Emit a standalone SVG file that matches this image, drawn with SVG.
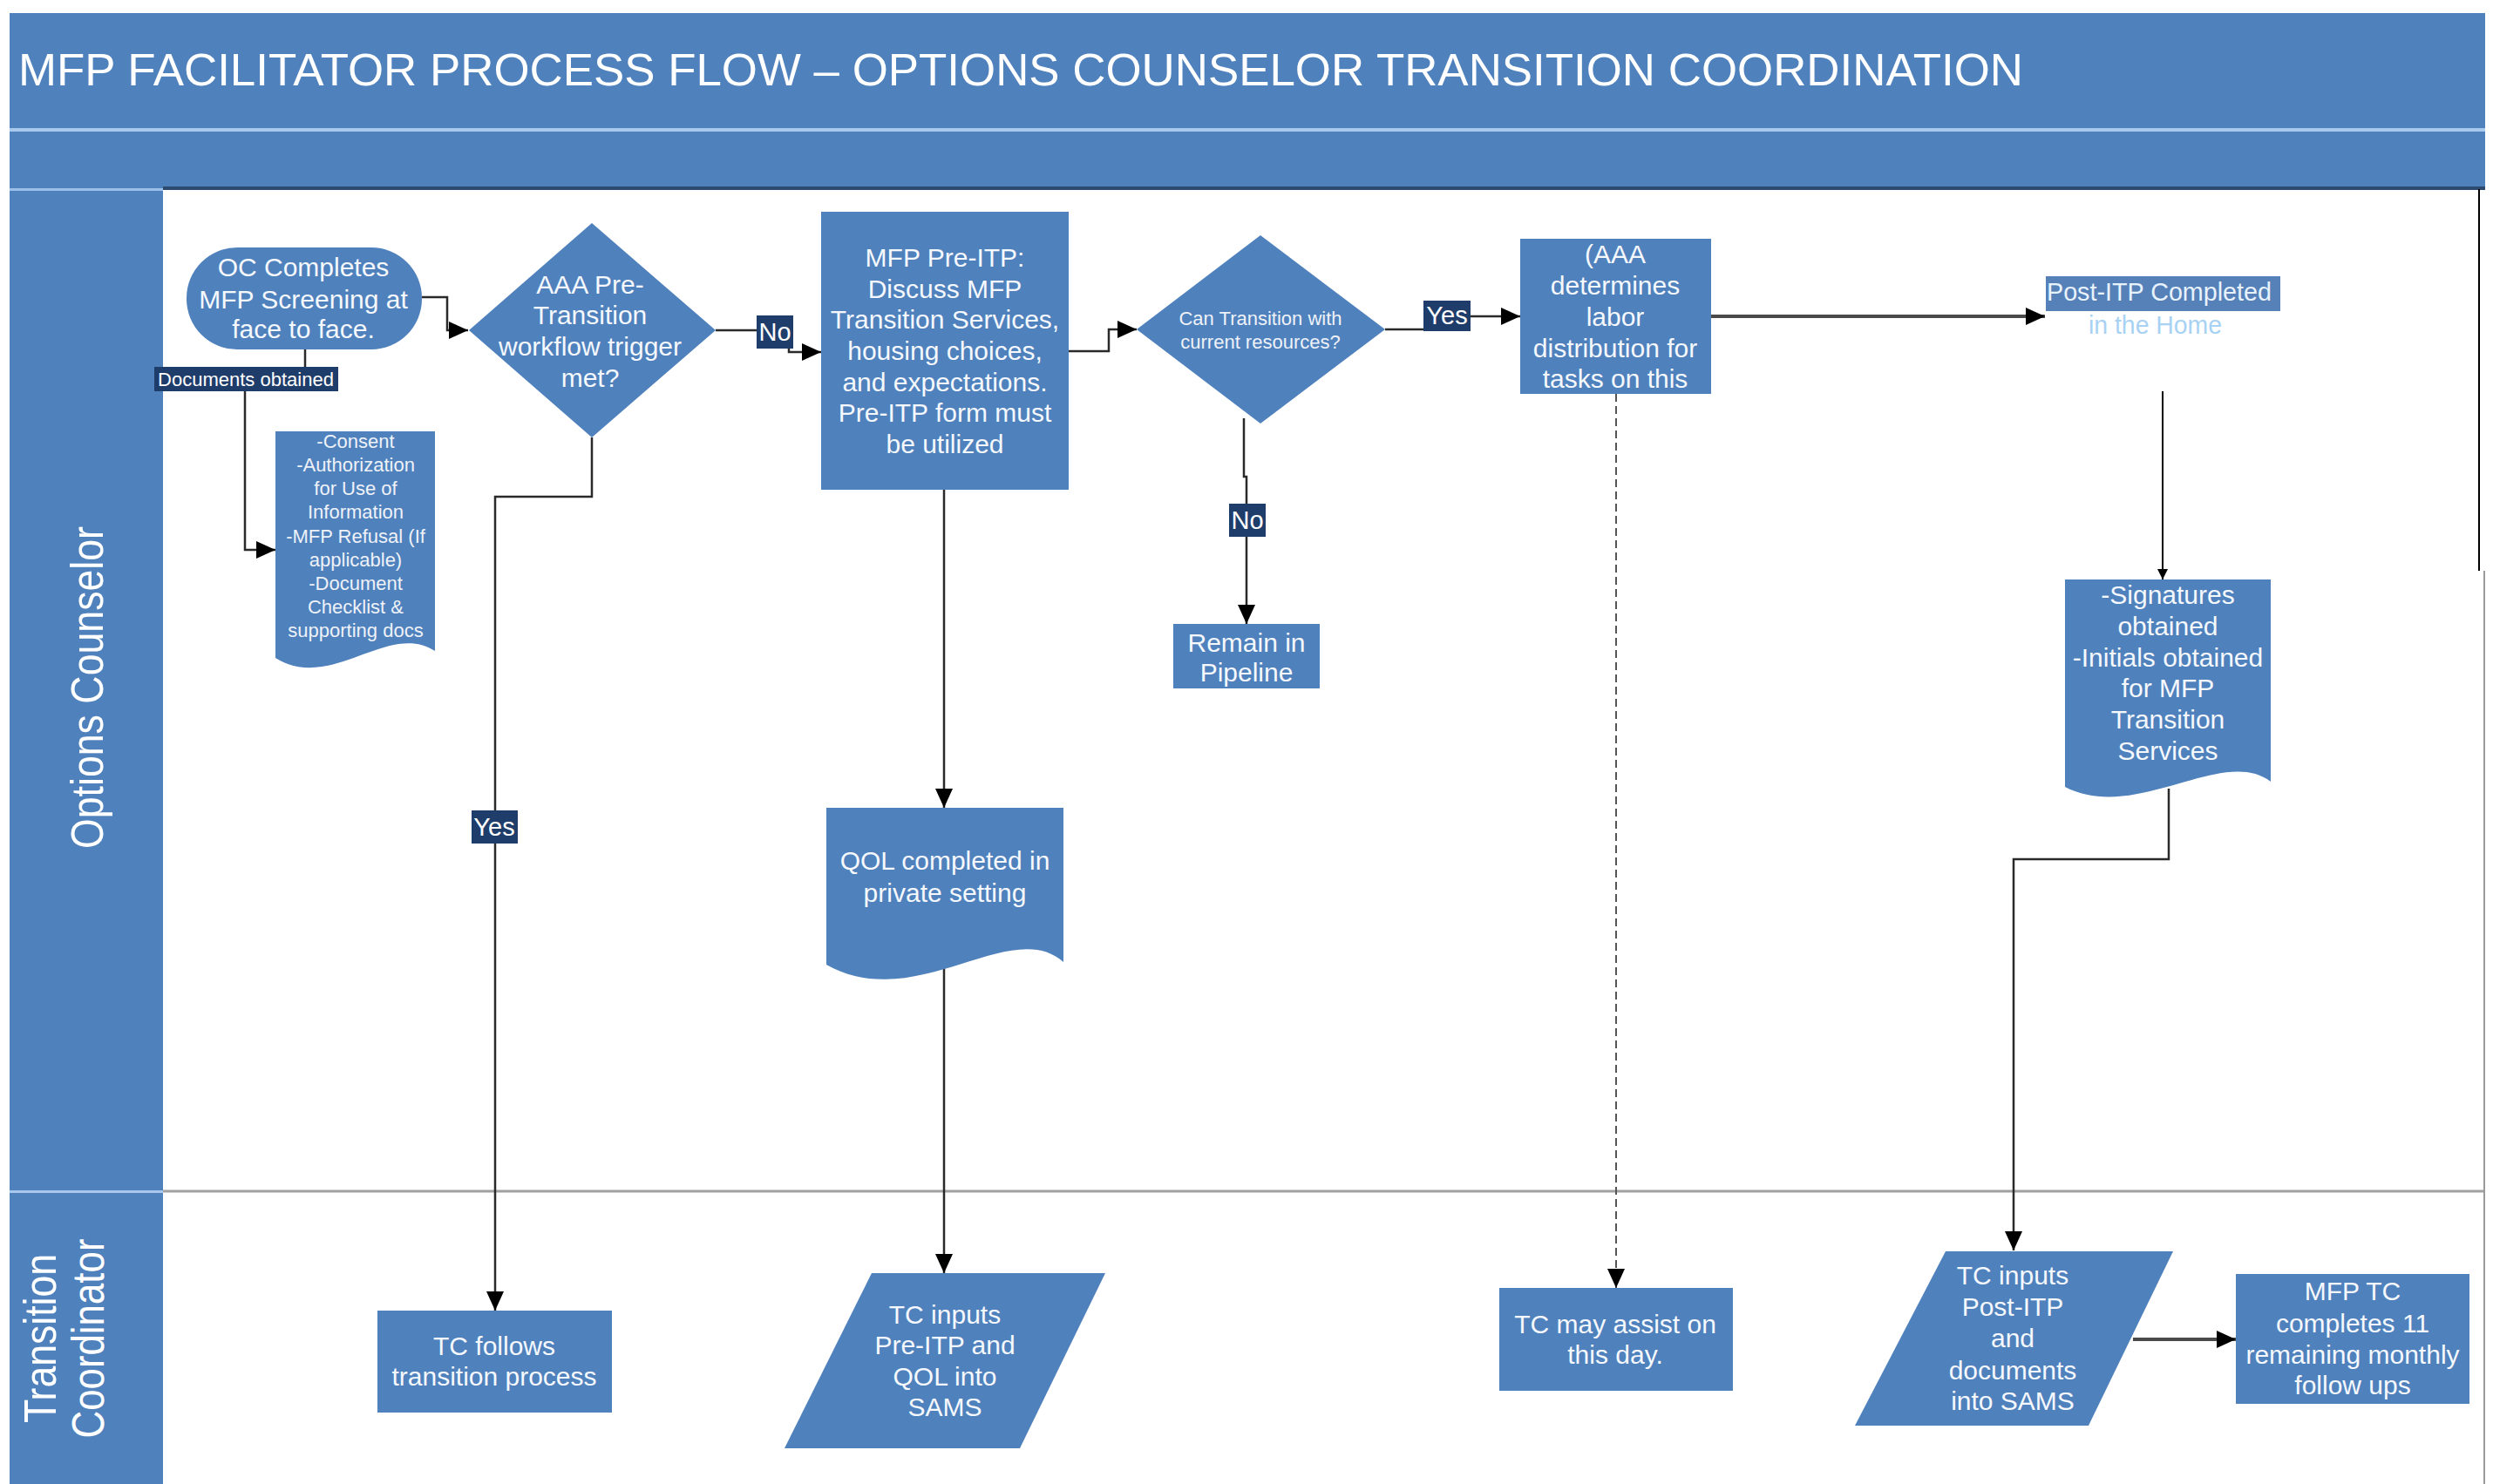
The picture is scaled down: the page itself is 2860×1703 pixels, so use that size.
<svg xmlns="http://www.w3.org/2000/svg" width="2860" height="1703" viewBox="0 0 2860 1703">
<defs>
<style>
.band{fill:#4f81bd}
.node{fill:#4f81bd}
.t{font-family:"Liberation Sans",Arial,sans-serif;font-size:30px;fill:#f5f8fc;text-anchor:middle}
.ts{font-family:"Liberation Sans",Arial,sans-serif;font-size:22px;fill:#eef2f8;text-anchor:middle}
.lane{font-family:"Liberation Sans",Arial,sans-serif;font-size:52px;fill:#ffffff;text-anchor:middle}
.lbl{fill:#1f3d6b}
.lt{font-family:"Liberation Sans",Arial,sans-serif;font-size:29px;fill:#ffffff;text-anchor:middle}
.c{fill:none;stroke:#2a2a2a;stroke-width:2.5}
.ck{fill:none;stroke:#4a4a4a;stroke-width:4}
.cd{fill:none;stroke:#555;stroke-width:2;stroke-dasharray:9 5}
</style>
<marker id="ah" markerUnits="userSpaceOnUse" markerWidth="22" markerHeight="20" refX="22" refY="10" orient="auto">
<path d="M0,0 L22,10 L0,20 Z" fill="#000"/>
</marker>
<marker id="ahs" markerUnits="userSpaceOnUse" markerWidth="12" markerHeight="12" refX="12" refY="6" orient="auto">
<path d="M0,0 L12,6 L0,12 Z" fill="#000"/>
</marker>
</defs>

<rect width="2860" height="1703" fill="#ffffff"/>

<!-- title bands -->
<g id="title">
<rect class="band" x="11" y="15" width="2840" height="135"/>
<rect class="band" x="11" y="150" width="2840" height="66"/>
<rect x="11" y="147" width="2840" height="4" fill="#a8c8ee"/>
<rect x="187" y="214" width="2664" height="4" fill="#2c4a70"/>
<text x="21" y="98" font-family="'Liberation Sans',Arial,sans-serif" font-size="52" fill="#ffffff" textLength="2300" lengthAdjust="spacingAndGlyphs">MFP FACILITATOR PROCESS FLOW – OPTIONS COUNSELOR TRANSITION COORDINATION</text>
</g>

<!-- lanes -->
<g id="lanes">
<rect class="band" x="11" y="216" width="176" height="1487"/>
<rect x="11" y="216" width="176" height="3" fill="#9cc0ea"/>
<rect x="11" y="1366" width="176" height="3" fill="#a8c8ee"/>
<line x1="187" y1="1367" x2="2850" y2="1367" stroke="#a0a0a0" stroke-width="3"/>
<line x1="2844" y1="217" x2="2844" y2="655" stroke="#000" stroke-width="2"/>
<line x1="2850" y1="655" x2="2850" y2="1703" stroke="#9a9a9a" stroke-width="2"/>
<text class="lane" transform="translate(118,789) rotate(-90)" textLength="370" lengthAdjust="spacingAndGlyphs">Options Counselor</text>
<text class="lane" transform="translate(64,1536) rotate(-90)" textLength="194" lengthAdjust="spacingAndGlyphs">Transition</text>
<text class="lane" transform="translate(119,1536) rotate(-90)" textLength="229" lengthAdjust="spacingAndGlyphs">Coordinator</text>
</g>

<!-- connectors -->
<g id="connectors">
<path class="c" d="M484 341 H513 V379 H537" marker-end="url(#ah)"/>
<path class="c" d="M350 401 V436 H281 V631 H316" marker-end="url(#ah)"/>
<path class="c" d="M821 379 H905 V404 H942" marker-end="url(#ah)"/>
<path class="c" d="M679 502 V570 H568 V1504" marker-end="url(#ah)"/>
<path class="c" d="M1226 403 H1272 V378 H1304" marker-end="url(#ah)"/>
<path class="c" d="M1427 480 V547 H1430 V716" marker-end="url(#ah)"/>
<path class="c" d="M1589 378 H1660 V363 H1744" marker-end="url(#ah)"/>
<path class="ck" d="M1962 363 H2346" marker-end="url(#ah)"/>
<path d="M2481 449 V665" fill="none" stroke="#000" stroke-width="2" marker-end="url(#ahs)"/>
<path class="cd" d="M1854 452 V1478" marker-end="url(#ah)"/>
<path class="c" d="M1083 562 V927" marker-end="url(#ah)"/>
<path class="c" d="M1083 1110 V1461" marker-end="url(#ah)"/>
<path class="c" d="M2488 905 V986 H2310 V1435" marker-end="url(#ah)"/>
<path class="ck" d="M2447 1537 H2565" marker-end="url(#ah)"/>
<g id="labels">
<rect class="lbl" x="177" y="421" width="211" height="28"/>
<text x="282" y="443" font-family="'Liberation Sans',Arial,sans-serif" font-size="22" fill="#ffffff" text-anchor="middle">Documents obtained</text>
<rect class="lbl" x="868" y="362" width="42" height="38"/>
<text class="lt" x="889" y="391">No</text>
<rect class="lbl" x="541" y="930" width="53" height="38"/>
<text class="lt" x="567" y="959">Yes</text>
<rect class="lbl" x="1410" y="578" width="42" height="38"/>
<text class="lt" x="1431" y="607">No</text>
<rect class="lbl" x="1633" y="345" width="54" height="35"/>
<text class="lt" x="1660" y="372">Yes</text>
</g>
</g>

<!-- nodes -->
<g id="n-screening">
<rect class="node" x="214" y="284" width="270" height="117" rx="58" ry="58"/>
<text class="t" x="348" y="317">OC Completes</text>
<text class="t" x="348" y="354">MFP Screening at</text>
<text class="t" x="348" y="388">face to face.</text>
</g>

<g id="n-trigger">
<polygon class="node" points="679,256 821,379 679,502 538,379"/>
<text class="t" x="677" y="337">AAA Pre-</text>
<text class="t" x="677" y="372">Transition</text>
<text class="t" x="677" y="408">workflow trigger</text>
<text class="t" x="677" y="444">met?</text>
</g>

<g id="n-documents">
<path class="node" d="M316 495 H499 V747 C445 712, 380 795, 316 755 Z"/>
<text class="ts" x="408" y="514">-Consent</text>
<text class="ts" x="408" y="541">-Authorization</text>
<text class="ts" x="408" y="568">for Use of</text>
<text class="ts" x="408" y="595">Information</text>
<text class="ts" x="408" y="623">-MFP Refusal (If</text>
<text class="ts" x="408" y="650">applicable)</text>
<text class="ts" x="408" y="677">-Document</text>
<text class="ts" x="408" y="704">Checklist &amp;</text>
<text class="ts" x="408" y="731">supporting docs</text>
</g>

<g id="n-preitp">
<rect class="node" x="942" y="243" width="284" height="319"/>
<text class="t" x="1084" y="306">MFP Pre-ITP:</text>
<text class="t" x="1084" y="342">Discuss MFP</text>
<text class="t" x="1084" y="377">Transition Services,</text>
<text class="t" x="1084" y="413">housing choices,</text>
<text class="t" x="1084" y="449">and expectations.</text>
<text class="t" x="1084" y="484">Pre-ITP form must</text>
<text class="t" x="1084" y="520">be utilized</text>
</g>

<g id="n-resources">
<polygon class="node" points="1446,270 1589,378 1446,486 1304,378"/>
<text class="ts" x="1446" y="373" fill="#e2e8f0">Can Transition with</text>
<text class="ts" x="1446" y="400" fill="#e2e8f0">current resources?</text>
</g>

<g id="n-pipeline">
<rect class="node" x="1346" y="716" width="168" height="74"/>
<text class="t" x="1430" y="748">Remain in</text>
<text class="t" x="1430" y="782">Pipeline</text>
</g>

<g id="n-aaa">
<rect class="node" x="1744" y="274" width="219" height="178"/>
<text class="t" x="1853" y="302">(AAA</text>
<text class="t" x="1853" y="338">determines</text>
<text class="t" x="1853" y="374">labor</text>
<text class="t" x="1853" y="410">distribution for</text>
<text class="t" x="1853" y="445">tasks on this</text>
</g>

<g id="n-postitp">
<rect x="2347" y="317" width="269" height="40" fill="#5581b8"/>
<text x="2348" y="345" font-family="'Liberation Sans',Arial,sans-serif" font-size="30" fill="#e8f2fc" textLength="258" lengthAdjust="spacingAndGlyphs">Post-ITP Completed</text>
<text x="2396" y="383" font-family="'Liberation Sans',Arial,sans-serif" font-size="30" fill="#a8d2f4" textLength="153" lengthAdjust="spacingAndGlyphs">in the Home</text>
</g>

<g id="n-signatures">
<path class="node" d="M2369 665 H2605 V897 C2550 855, 2450 945, 2369 903 Z"/>
<text class="t" x="2487" y="693">-Signatures</text>
<text class="t" x="2487" y="729">obtained</text>
<text class="t" x="2487" y="765">-Initials obtained</text>
<text class="t" x="2487" y="800">for MFP</text>
<text class="t" x="2487" y="836">Transition</text>
<text class="t" x="2487" y="872">Services</text>
</g>

<g id="n-qol">
<path class="node" d="M948 927 H1220 V1104 C1160 1050, 1050 1165, 948 1107 Z"/>
<text class="t" x="1084" y="998">QOL completed in</text>
<text class="t" x="1084" y="1035">private setting</text>
</g>

<g id="n-tcfollows">
<rect class="node" x="433" y="1504" width="269" height="117"/>
<text class="t" x="567" y="1555">TC follows</text>
<text class="t" x="567" y="1590">transition process</text>
</g>

<g id="n-tcpre">
<polygon class="node" points="1000,1461 1268,1461 1170,1662 900,1662"/>
<text class="t" x="1084" y="1519">TC inputs</text>
<text class="t" x="1084" y="1554">Pre-ITP and</text>
<text class="t" x="1084" y="1590">QOL into</text>
<text class="t" x="1084" y="1625">SAMS</text>
</g>

<g id="n-tcassist">
<rect class="node" x="1720" y="1478" width="268" height="118"/>
<text class="t" x="1853" y="1530">TC may assist on</text>
<text class="t" x="1853" y="1565">this day.</text>
</g>

<g id="n-tcpost">
<polygon class="node" points="2232,1436 2493,1436 2396,1636 2128,1636"/>
<text class="t" x="2309" y="1474">TC inputs</text>
<text class="t" x="2309" y="1510">Post-ITP</text>
<text class="t" x="2309" y="1546">and</text>
<text class="t" x="2309" y="1583">documents</text>
<text class="t" x="2309" y="1618">into SAMS</text>
</g>

<g id="n-followups">
<rect class="node" x="2565" y="1462" width="268" height="149"/>
<text class="t" x="2699" y="1492">MFP TC</text>
<text class="t" x="2699" y="1529">completes 11</text>
<text class="t" x="2699" y="1565">remaining monthly</text>
<text class="t" x="2699" y="1600">follow ups</text>
</g>
</svg>
